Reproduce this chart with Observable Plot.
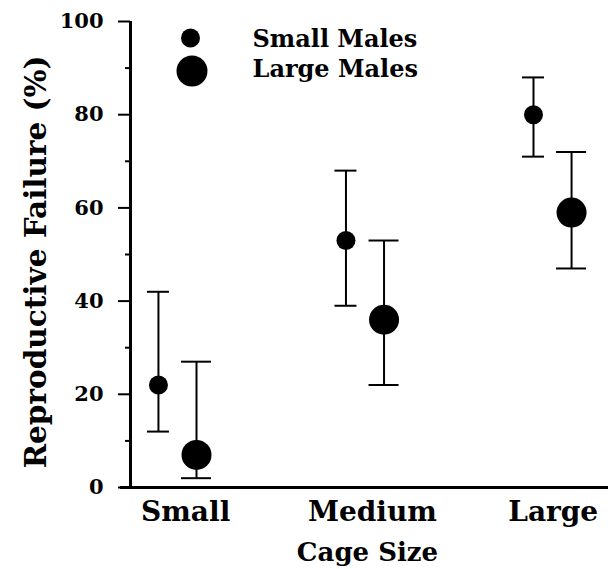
<!DOCTYPE html>
<html>
<head>
<meta charset="utf-8">
<script src="https://cdn.jsdelivr.net/npm/d3@7"></script>
<script src="https://cdn.jsdelivr.net/npm/@observablehq/plot@0.6"></script>
<style>
  html, body { margin: 0; padding: 0; background: #fff; }
</style>
</head>
<body>
<div id="chart"></div>
<script>
// ---- data ----
const categories = ["Small", "Medium", "Large"];
const groups = ["Small Males", "Large Males"];
const smallMales = [22, 53, 80];
const smallLow = [12, 39, 71];
const smallHigh = [42, 68, 88];
const largeMales = [7, 36, 59];
const largeLow = [2, 22, 47];
const largeHigh = [27, 53, 72];
const yTicks = [0, 20, 40, 60, 80, 100];
const yMinorTicks = [10, 30, 50, 70, 90];

// ---- layout constants ----
const W = 610, H = 569;
const mL = 130, mR = 2, mT = 21, mB = 82;
const xDomain = [-0.149, 2.4];
const pxPerUnit = (W - mL - mR) / (xDomain[1] - xDomain[0]);
const groupOffset = 0.203;               // large males sit to the right of small males
const labelNudge = [0.145, 1.141, 2.105]; // category label placement (x units)
const font = "DejaVu Serif";

const rows = categories.flatMap((c, i) => [
  {cat: c, group: groups[0], x: i, y: smallMales[i], lo: smallLow[i], hi: smallHigh[i], cap: 11 / pxPerUnit},
  {cat: c, group: groups[1], x: i + groupOffset, y: largeMales[i], lo: largeLow[i], hi: largeHigh[i], cap: 15 / pxPerUnit}
]);

const chart = Plot.plot({
  width: W, height: H,
  marginLeft: mL, marginRight: mR, marginTop: mT, marginBottom: mB,
  style: {fontFamily: font, fontWeight: "bold", background: "#fff", color: "#000", overflow: "visible"},
  x: {domain: xDomain, axis: null},
  y: {domain: [0, 100], axis: null},
  marks: [
    Plot.axisY(yTicks, {tickSize: 12, tickPadding: 15, fontSize: 21, fontWeight: "bold", strokeWidth: 2, label: null}),
    Plot.axisY(yMinorTicks, {tickSize: 5, strokeWidth: 2, tickFormat: () => "", label: null}),
    Plot.ruleX([xDomain[0]], {y1: 0, y2: 100, strokeWidth: 3}),
    Plot.ruleY([0], {x1: xDomain[0] - 10 / pxPerUnit, x2: xDomain[1], strokeWidth: 3}),
    // error bars
    Plot.ruleX(rows, {x: "x", y1: "lo", y2: "hi", strokeWidth: 2}),
    Plot.ruleY(rows, {y: "hi", x1: d => d.x - d.cap, x2: d => d.x + d.cap, strokeWidth: 2}),
    Plot.ruleY(rows, {y: "lo", x1: d => d.x - d.cap, x2: d => d.x + d.cap, strokeWidth: 2}),
    // points
    Plot.dot(rows.filter(d => d.group === groups[0]), {x: "x", y: "y", r: 9.5, fill: "#000"}),
    Plot.dot(rows.filter(d => d.group === groups[1]), {x: "x", y: "y", r: 15, fill: "#000"}),
    // category labels
    Plot.text(categories, {x: (d, i) => labelNudge[i], y: () => 0, text: d => d, dy: 25, fontSize: 28, fontWeight: "bold"}),
    // axis titles
    Plot.text(["Cage Size"], {frameAnchor: "bottom", text: d => d, textAnchor: "middle", lineAnchor: "middle", dx: -2, dy: 65, fontSize: 26, fontWeight: "bold"}),
    Plot.text(["Reproductive Failure (%)"], {frameAnchor: "left", text: d => d, textAnchor: "middle", lineAnchor: "middle", dx: -94, dy: 7.5, rotate: -90, fontSize: 29.5, fontWeight: "bold"}),
    // legend
    Plot.dot([groups[0]], {frameAnchor: "top-left", dx: 60, dy: 16.5, r: 9.5, fill: "#000"}),
    Plot.dot([groups[1]], {frameAnchor: "top-left", dx: 61.5, dy: 49.5, r: 15.5, fill: "#000"}),
    Plot.text([groups[0]], {frameAnchor: "top-left", text: d => d, dx: 122, dy: 17.5, textAnchor: "start", lineAnchor: "middle", fontSize: 24, fontWeight: "bold"}),
    Plot.text([groups[1]], {frameAnchor: "top-left", text: d => d, dx: 122, dy: 47.5, textAnchor: "start", lineAnchor: "middle", fontSize: 24, fontWeight: "bold"})
  ]
});
document.getElementById("chart").appendChild(chart);
</script>
</body>
</html>
